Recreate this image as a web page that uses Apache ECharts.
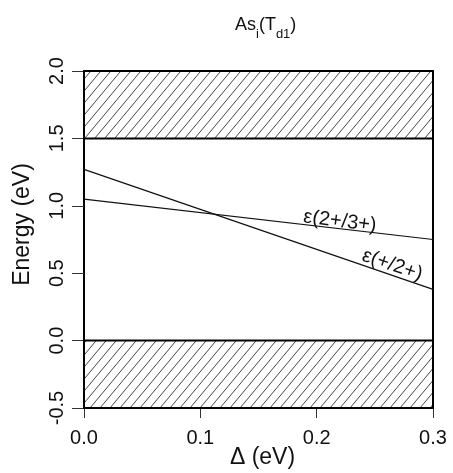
<!DOCTYPE html>
<html lang="en">

<head>
    <meta charset="UTF-8">
    <title>As_i(T_d1)</title>
    <script src="https://cdn.jsdelivr.net/npm/echarts@6/dist/echarts.min.js"></script>
    <style>
        body {
            margin: 0;
            background: #fff;
        }

        .box {
            width: 453px;
            height: 473px;
        }
    </style>
</head>

<body>
    <div class="box"></div>
</body>
<script>
    // x range (Delta, eV) and energy axis
    let deltaRange = [0, 0.3]
    let energyRange = [-0.5, 2.0]
    // bands (eV)
    let valenceBand = [-0.5, 0.0]
    let conductionBand = [1.5, 2.0]
    // levels at Delta = 0 and Delta = 0.3
    let level23 = [1.05, 0.75]   // e(2+/3+)
    let level12 = [1.27, 0.38]   // e(+/2+)

    // hatch pattern for the bands
    function hatch() {
        let w = 10, h = 12
        let c = document.createElement('canvas')
        c.width = w
        c.height = h
        let ctx = c.getContext('2d')
        ctx.strokeStyle = '#333'
        ctx.lineWidth = 0.9
        for (let dx = -1; dx <= 1; dx++) {
            ctx.beginPath()
            ctx.moveTo(dx * w, h)
            ctx.lineTo(dx * w + w, 0)
            ctx.stroke()
        }
        return c
    }

    function line(v) {
        return [[deltaRange[0], v[0]], [deltaRange[1], v[1]]]
    }

    let font = 'Liberation Sans'
    let mCharts = echarts.init(document.querySelector('.box'))

    let option = {
        backgroundColor: '#fff',
        animation: false,
        title: {
            text: '{n|As}{s|i}{n|(T}{s|d1}{n|)}',
            left: 230,
            top: 11,
            textStyle: {
                fontWeight: 'normal',
                rich: {
                    n: { fontFamily: font, fontSize: 18, fontWeight: 'normal', color: '#111', lineHeight: 22, verticalAlign: 'top' },
                    s: { fontFamily: font, fontSize: 13, fontWeight: 'normal', color: '#111', lineHeight: 13, padding: [12, 0, 0, 0], verticalAlign: 'top' }
                }
            }
        },
        grid: {
            left: 84,
            right: 20,
            top: 71,
            bottom: 65,
            containLabel: false,
            outerBoundsMode: 'none',
            show: true,
            borderColor: '#000',
            borderWidth: 2
        },
        xAxis: {
            type: 'value',
            min: deltaRange[0],
            max: deltaRange[1],
            interval: 0.1,
            name: 'Δ (eV)',
            nameLocation: 'middle',
            nameGap: 38,
            nameMoveOverlap: false,
            nameTextStyle: { fontFamily: font, fontSize: 23, color: '#111', padding: [0, 0, 0, 8] },
            axisLine: { onZero: false, lineStyle: { color: '#000', width: 2 } },
            axisTick: { show: true, inside: false, length: 10, lineStyle: { color: '#333', width: 1 } },
            axisLabel: {
                margin: 20,
                fontFamily: font,
                fontSize: 20,
                color: '#111',
                formatter: v => v.toFixed(1)
            },
            splitLine: { show: false }
        },
        yAxis: {
            type: 'value',
            min: energyRange[0],
            max: energyRange[1],
            interval: 0.5,
            name: 'Energy (eV)',
            nameLocation: 'middle',
            nameGap: 50,
            nameMoveOverlap: false,
            nameTextStyle: { fontFamily: font, fontSize: 23, color: '#111', padding: [0, 0, 0, 30] },
            axisLine: { onZero: false, lineStyle: { color: '#000', width: 2 } },
            axisTick: { length: 12, lineStyle: { color: '#333', width: 1 } },
            axisLabel: {
                margin: 17,
                rotate: 90,
                fontFamily: font,
                fontSize: 20,
                color: '#111',
                formatter: v => v.toFixed(1)
            },
            splitLine: { show: false }
        },
        series: [{
            type: 'line',
            data: line(level23),
            symbol: 'none',
            lineStyle: { color: '#111', width: 1.2 },
            markArea: {
                silent: true,
                itemStyle: {
                    color: { image: hatch(), repeat: 'repeat' },
                    borderColor: '#000',
                    borderWidth: 2
                },
                data: [
                    [{ yAxis: valenceBand[0] }, { yAxis: valenceBand[1] }],
                    [{ yAxis: conductionBand[0] }, { yAxis: conductionBand[1] }]
                ]
            },
            markPoint: {
                symbol: 'circle',
                symbolSize: 0,
                label: {
                    show: true,
                    position: 'inside',
                    rotate: -7,
                    fontFamily: font,
                    fontSize: 20,
                    color: '#111',
                    formatter: 'ε(2+/3+)'
                },
                data: [{ coord: [0.22, 0.885] }]
            }
        }, {
            type: 'line',
            data: line(level12),
            symbol: 'none',
            lineStyle: { color: '#111', width: 1.2 },
            markPoint: {
                symbol: 'circle',
                symbolSize: 0,
                label: {
                    show: true,
                    position: 'inside',
                    rotate: -19,
                    fontFamily: font,
                    fontSize: 20,
                    color: '#111',
                    formatter: 'ε(+/2+)'
                },
                data: [{ coord: [0.265, 0.56] }]
            }
        }]
    }
    mCharts.setOption(option)
</script>

</html>
